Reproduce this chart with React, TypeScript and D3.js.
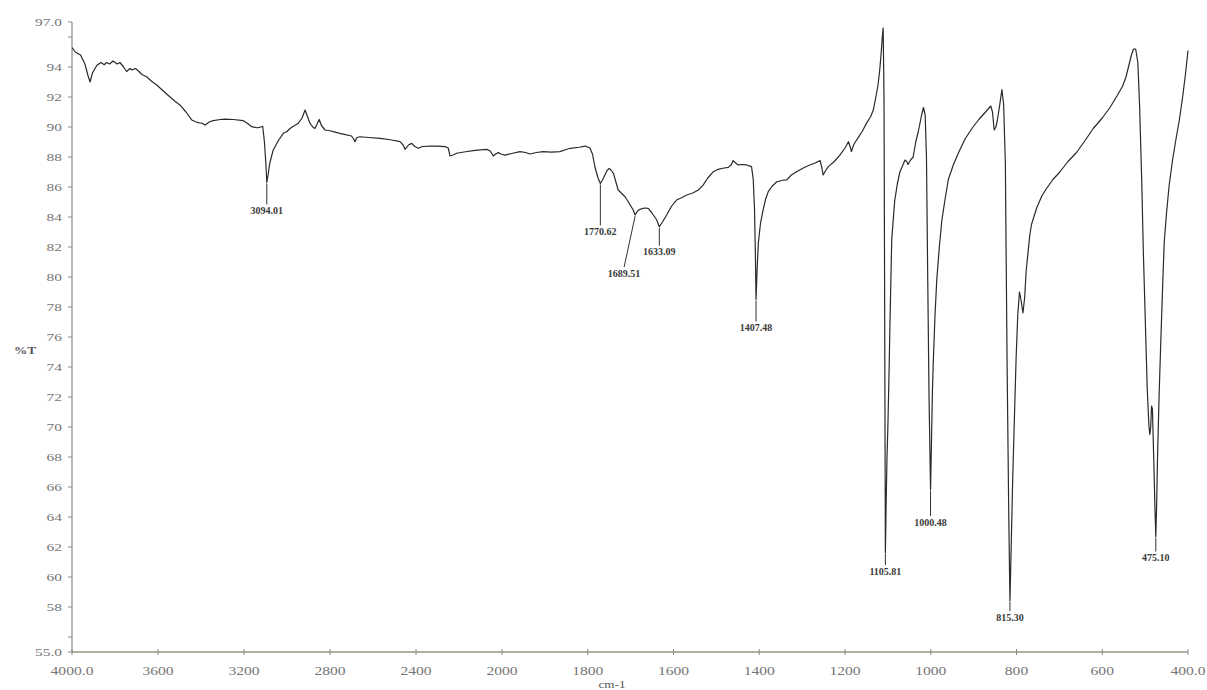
import React from "react";
import * as d3 from "d3";

// ---- data ----
const wavenumbers = [
  4000, 3985, 3960, 3940, 3925, 3916, 3905, 3885, 3865, 3850, 3839, 3825, 3809, 3790, 3777, 3760, 3746, 3730, 3721, 3705,
  3692, 3675, 3653, 3630, 3606, 3575, 3544, 3520, 3498, 3470, 3443, 3425, 3413, 3395, 3381, 3360, 3343, 3310, 3288, 3250,
  3203, 3180, 3164, 3140, 3126, 3113, 3105, 3098, 3094, 3088, 3080, 3064, 3040, 3017, 3000, 2986, 2965, 2948, 2930, 2916,
  2905, 2893, 2880, 2870, 2860, 2850, 2840, 2823, 2800, 2785, 2754, 2738, 2700, 2690, 2684, 2675, 2660, 2620, 2567, 2520,
  2474, 2460, 2451, 2435, 2420, 2405, 2389, 2370, 2335, 2300, 2265, 2250, 2242, 2225, 2211, 2170, 2134, 2100, 2071, 2055,
  2040, 2030, 2017, 2005, 1993, 1975, 1958, 1945, 1935, 1920, 1904, 1885, 1865, 1850, 1841, 1820, 1806, 1795, 1789, 1783,
  1776, 1770.62, 1765, 1760, 1755, 1750, 1745, 1740, 1735, 1729, 1720, 1713, 1703, 1694, 1689.51, 1684, 1678, 1668, 1659, 1651,
  1645, 1639, 1633.09, 1625, 1616, 1605, 1593, 1580, 1569, 1555, 1542, 1531, 1520, 1507, 1496, 1485, 1472, 1465, 1461, 1455,
  1449, 1440, 1429, 1418, 1414, 1411, 1409, 1407.48, 1405, 1402, 1397, 1391, 1385, 1379, 1370, 1359, 1345, 1336, 1325, 1313,
  1295, 1282, 1270, 1258, 1254, 1251, 1245, 1239, 1225, 1212, 1200, 1192, 1188, 1185, 1180, 1173, 1160, 1150, 1140, 1134,
  1128, 1123, 1119, 1116, 1113, 1111, 1109, 1107.5, 1105.81, 1104, 1102, 1100, 1097, 1095, 1091, 1084, 1078, 1072, 1060, 1056,
  1053, 1047, 1041, 1035, 1029, 1022, 1017, 1013, 1010, 1007, 1004, 1000.48, 998, 996, 994, 990, 986, 980, 974, 966,
  959, 947, 935, 920, 904, 888, 872, 860, 856, 852, 848, 845, 840, 834, 830, 826, 822, 818, 815.3, 812,
  809, 805, 801, 797, 793, 789, 785, 781, 777.5, 769, 765, 753, 741, 730, 715, 699, 680, 660, 640, 621,
  600, 582, 565, 553, 545, 538, 532, 527, 522, 517, 513, 508, 504, 499, 495, 491, 489, 487, 485, 483,
  480, 477, 475.1, 473, 471, 467, 463, 459, 455.5, 450, 444, 436, 428, 420, 413, 406, 400,
];

const transmittance = [
  95.3, 95.0, 94.8, 94.2, 93.4, 93.0, 93.6, 94.1, 94.3, 94.15, 94.3, 94.2, 94.4, 94.2, 94.3, 94.0, 93.7, 93.9, 93.8, 93.9,
  93.75, 93.5, 93.35, 93.05, 92.8, 92.4, 92.0, 91.7, 91.47, 91.0, 90.47, 90.35, 90.29, 90.25, 90.13, 90.35, 90.42, 90.5, 90.53, 90.5,
  90.42, 90.2, 90.02, 89.95, 89.98, 90.05, 89.0, 87.5, 86.3, 86.8, 87.6, 88.47, 89.1, 89.58, 89.7, 89.9, 90.1, 90.24, 90.6, 91.13,
  90.7, 90.24, 90.0, 89.9, 90.2, 90.5, 90.1, 89.8, 89.75, 89.69, 89.58, 89.53, 89.4, 89.2, 89.02, 89.3, 89.35, 89.3, 89.24, 89.15,
  89.02, 88.8, 88.51, 88.8, 88.91, 88.7, 88.58, 88.7, 88.73, 88.72, 88.69, 88.6, 88.07, 88.15, 88.25, 88.35, 88.42, 88.48, 88.51, 88.4,
  88.07, 88.2, 88.29, 88.2, 88.13, 88.25, 88.36, 88.3, 88.2, 88.3, 88.36, 88.33, 88.36, 88.5, 88.58, 88.65, 88.73, 88.6, 88.2, 87.3,
  86.6, 86.24, 86.5, 86.8, 87.1, 87.24, 87.1, 86.91, 86.4, 85.8, 85.55, 85.35, 84.9, 84.47, 84.13, 84.4, 84.51, 84.6, 84.58, 84.3,
  84.05, 83.8, 83.35, 83.7, 84.13, 84.7, 85.13, 85.3, 85.47, 85.6, 85.8, 86.13, 86.6, 87.02, 87.18, 87.25, 87.31, 87.5, 87.76, 87.6,
  87.47, 87.5, 87.47, 87.36, 86.5, 84.5, 81.5, 78.5, 80.5, 82.3, 83.6, 84.47, 85.2, 85.69, 86.05, 86.35, 86.45, 86.47, 86.8, 87.02,
  87.3, 87.47, 87.6, 87.76, 87.3, 86.8, 87.1, 87.36, 87.7, 88.13, 88.6, 89.02, 88.7, 88.36, 88.8, 89.13, 89.7, 90.24, 90.7, 91.13,
  92.0, 92.8, 93.8, 94.8, 96.0, 96.6, 92.0, 78.0, 61.6, 65.0, 68.0, 70.0, 74.0, 77.1, 82.5, 85.1, 86.2, 87.0, 87.8, 87.7,
  87.5, 87.8, 88.0, 89.0, 89.7, 90.7, 91.3, 90.8, 88.0, 79.8, 72.0, 65.8, 69.5, 72.5, 74.4, 77.5, 79.8, 82.0, 83.8, 85.3,
  86.5, 87.5, 88.3, 89.2, 89.9, 90.5, 91.0, 91.4, 91.0, 89.8, 90.0, 90.4, 91.3, 92.5, 91.5, 87.6, 74.4, 64.0, 58.4, 62.5,
  66.4, 70.5, 74.5, 77.5, 79.0, 78.4, 77.6, 78.6, 80.4, 82.8, 83.5, 84.6, 85.4, 85.9, 86.5, 87.0, 87.7, 88.3, 89.1, 89.9,
  90.6, 91.3, 92.1, 92.7, 93.3, 94.1, 94.8, 95.2, 95.2, 94.3, 91.5, 86.5, 81.5, 76.5, 72.5, 70.0, 69.5, 70.0, 71.4, 71.2,
  68.0, 64.5, 62.7, 65.0, 68.1, 72.5, 76.1, 79.5, 82.3, 84.3, 86.1, 87.8, 89.2, 90.5, 91.9, 93.5, 95.1,
];

const xTickValues = [4000, 3600, 3200, 2800, 2400, 2000, 1800, 1600, 1400, 1200, 1000, 800, 600, 400];
const xTickLabels = ["4000.0", "3600", "3200", "2800", "2400", "2000", "1800", "1600", "1400", "1200", "1000", "800", "600", "400.0"];
const yTickValues = [97, 94, 92, 90, 88, 86, 84, 82, 80, 78, 76, 74, 72, 70, 68, 66, 64, 62, 60, 58, 55];
const yTickLabels = ["97.0", "94", "92", "90", "88", "86", "84", "82", "80", "78", "76", "74", "72", "70", "68", "66", "64", "62", "60", "58", "55.0"];
const yMinorTicks = [96, 56];

const peakWavenumbers = [3094.01, 1770.62, 1689.51, 1633.09, 1407.48, 1105.81, 1000.48, 815.3, 475.1];
const peakLabels = ["3094.01", "1770.62", "1689.51", "1633.09", "1407.48", "1105.81", "1000.48", "815.30", "475.10"];

// ---- layout (label placement relative to peak tip) ----
const labelGap = [28, 48, 58, 25, 28, 18, 32, 16, 21];
const labelDx = [0, 0, -11, 0, 0, 0, 0, 0, 0];

const W = 1207;
const H = 690;
const serif = "'Liberation Serif', 'DejaVu Serif', serif";

export default function App() {
  const x = d3.scaleLinear().domain([4000, 2000, 400]).range([72, 502, 1188]);
  const y = d3.scaleLinear().domain([55, 97]).range([652, 22]);

  const pts = wavenumbers.map((w, i) => [w, transmittance[i]] as [number, number]);
  const line = d3
    .line<[number, number]>()
    .x((d) => x(d[0]))
    .y((d) => y(d[1]));

  const tipT = (w: number) => {
    const p = d3.least(pts, (d) => Math.abs(d[0] - w));
    return p ? p[1] : 80;
  };

  const axisColor = "#8a8a8a";
  const tickText = "#757575";

  return (
    <svg width={W} height={H} style={{ position: "absolute", left: 0, top: 0, background: "#fff" }}>
      {/* y axis */}
      <line x1={x(4000)} x2={x(4000)} y1={y(97)} y2={y(55)} stroke={axisColor} strokeWidth={1.2} />
      {yTickValues.map((v, i) => (
        <g key={"yt" + v}>
          <line x1={x(4000) - 4} x2={x(4000)} y1={y(v)} y2={y(v)} stroke={axisColor} strokeWidth={1} />
          <text
            transform={`translate(${x(4000) - 10},${y(v) + 3.5}) scale(1.4,1)`}
            textAnchor="end"
            fontFamily={serif}
            fontSize={11}
            fill={tickText}
          >
            {yTickLabels[i]}
          </text>
        </g>
      ))}
      {yMinorTicks.map((v) => (
        <line key={"ym" + v} x1={x(4000) - 4} x2={x(4000)} y1={y(v)} y2={y(v)} stroke={axisColor} strokeWidth={1} />
      ))}

      {/* x axis */}
      <line x1={x(4000)} x2={x(400)} y1={y(55)} y2={y(55)} stroke="#8f9a84" strokeWidth={1.5} />
      {xTickValues.map((v, i) => (
        <g key={"xt" + v}>
          <line x1={x(v)} x2={x(v)} y1={y(55) - 3} y2={y(55) + 3} stroke={axisColor} strokeWidth={1} />
          <text
            transform={`translate(${x(v)},${y(55) + 23}) scale(1.2,1)`}
            textAnchor="middle"
            fontFamily={serif}
            fontSize={13}
            fill={tickText}
          >
            {xTickLabels[i]}
          </text>
        </g>
      ))}

      {/* axis titles */}
      <text transform={`translate(25,354) scale(1.2,1)`} textAnchor="middle" fontFamily={serif} fontSize={11} fontWeight="bold" fill="#555">
        %T
      </text>
      <text transform={`translate(612,688) scale(1.2,1)`} textAnchor="middle" fontFamily={serif} fontSize={11} fill="#555">
        cm-1
      </text>

      {/* spectrum */}
      <path d={line(pts) || ""} fill="none" stroke="#2a2a2a" strokeWidth={1.2} strokeLinejoin="round" />

      {/* peak annotations */}
      {peakWavenumbers.map((w, i) => {
        const px = x(w);
        const py = y(tipT(w));
        const ly = py + labelGap[i];
        const lx = px + labelDx[i];
        return (
          <g key={"pk" + i}>
            <line x1={px} y1={py + 1} x2={lx} y2={ly - 6} stroke="#333" strokeWidth={1} />
            <text x={lx} y={ly + 3.5} textAnchor="middle" fontFamily={serif} fontSize={10} fontWeight="bold" fill="#3a3a3a">
              {peakLabels[i]}
            </text>
          </g>
        );
      })}
    </svg>
  );
}
